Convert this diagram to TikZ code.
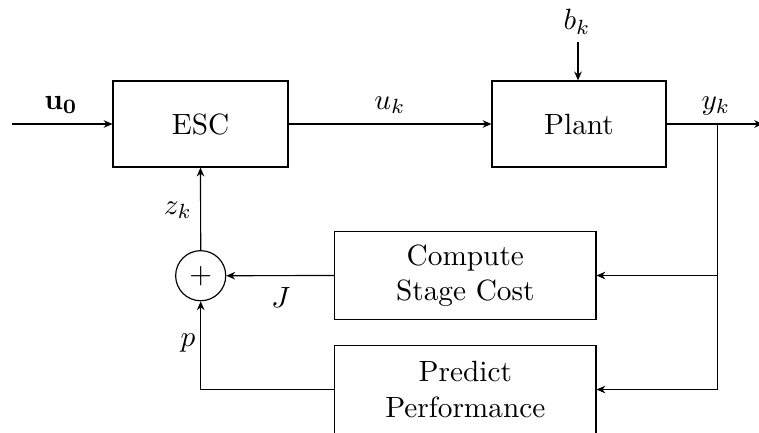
\documentclass[tikz,border=0pt]{standalone}
\usetikzlibrary{arrows.meta}
\begin{document}
\begin{tikzpicture}[x=0.3413pt,y=-0.3413pt,
  blockbox/.style={draw, inner sep=0pt, align=center},
  sumnode/.style={draw, circle, inner sep=0pt, minimum size=17.1pt},
  conn/.style={-{Stealth[length=3pt,width=2.6pt]}},
  lbl/.style={inner sep=0pt}]
\useasboundingbox (0,0) rectangle (759,432);
\node[blockbox, minimum width=59.7pt, minimum height=29.4pt] (esc) at (200.5,124) {ESC};
\node[blockbox, minimum width=59.4pt, minimum height=29.4pt] (plant) at (579,124) {Plant};
\node[blockbox, minimum width=89.2pt, minimum height=29.8pt] (cost) at (465.3,275.5) {Compute\\Stage Cost};
\node[blockbox, minimum width=89.2pt, minimum height=30.2pt] (pred) at (465.3,389.5) {Predict\\Performance};
\node[sumnode] (sum) at (200.7,275.7) {$+$};
\node[lbl] (u0) at (61,105) {$\mathbf{u_0}$};
\node[lbl] (uk) at (390,105) {$u_k$};
\node[lbl] (yk) at (716,106) {$y_k$};
\node[lbl] (bk) at (577,22) {$b_k$};
\node[lbl] (zk) at (178,210) {$z_k$};
\node[lbl] (J) at (281,297) {$J$};
\node[lbl] (p) at (188,343) {$p$};
\coordinate (in) at (12,124);
\coordinate (out) at (763,124);
\coordinate (btop) at (578,42);
\coordinate (br) at (717.3,124);
\coordinate (brd) at (717.3,389.5);
\coordinate (pc) at (200.7,389.5);
\draw[conn] (in) -- (esc.west);
\draw[conn] (esc.east) -- (plant.west);
\draw[conn] (btop) -- (btop |- plant.north);
\draw[conn] (plant.east) -- (out);
\draw (br) -- (brd);
\draw[conn] (br |- cost.east) -- (cost.east);
\draw[conn] (brd) -- (pred.east);
\draw[conn] (cost.west) -- (sum.east);
\draw (pred.west) -- (pc);
\draw[conn] (pc) -- (sum.south);
\draw[conn] (sum.north) -- (esc.south);
\end{tikzpicture}
\end{document}
